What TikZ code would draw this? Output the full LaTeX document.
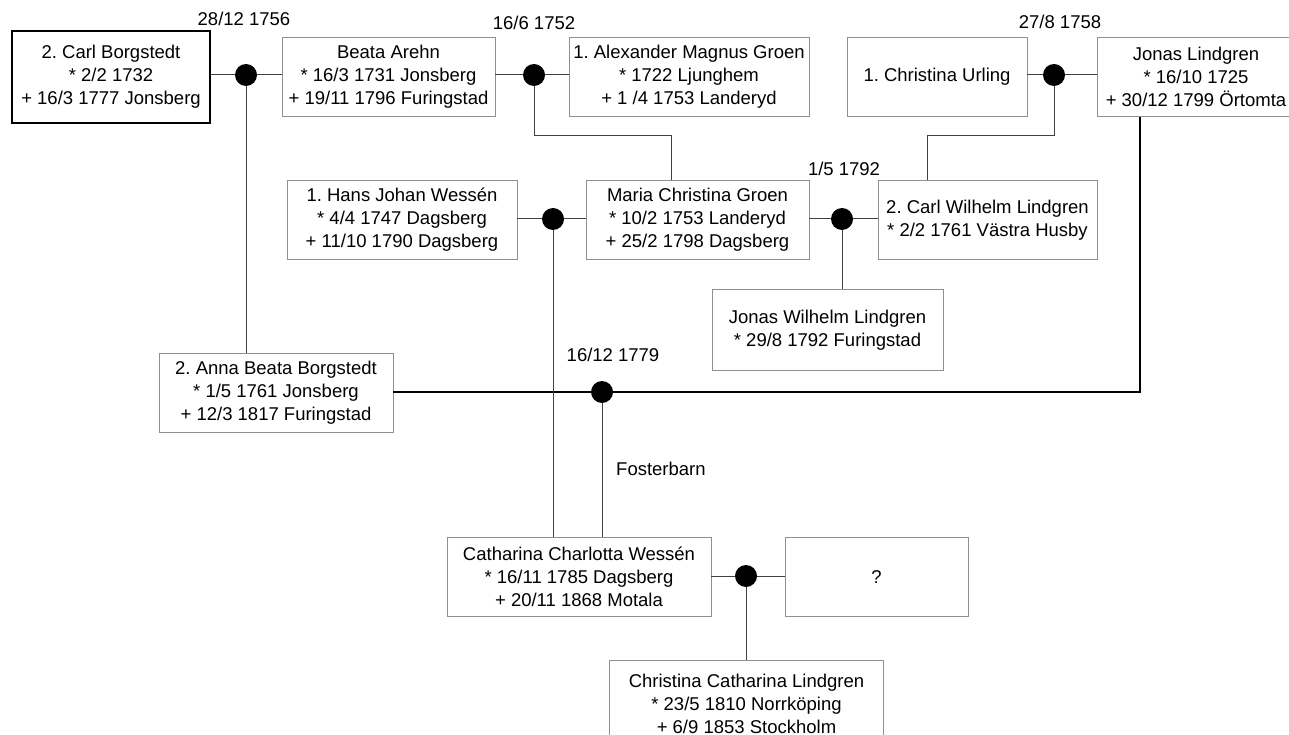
\documentclass[tikz,border=0pt]{standalone}
\usepackage{fontspec}
\setmainfont{Liberation Sans}
\frenchspacing
\definecolor{boxgray}{HTML}{909090}
\definecolor{linegray}{HTML}{404040}
\begin{document}
\begin{tikzpicture}[x=1pt,y=-1pt,
  person/.style={draw=boxgray, line width=0.8pt, fill=white, inner sep=0pt, align=center,
    font=\fontsize{18.5}{23}\selectfont\frenchspacing},
  mainperson/.style={person, draw=black, line width=1.5pt},
  dot/.style={circle, fill=black, minimum size=22pt, inner sep=0pt},
  link/.style={draw=linegray, line width=1pt},
  heavylink/.style={draw=black, line width=2pt},
  datelabel/.style={font=\fontsize{18.5}{23}\selectfont, inner sep=0pt}]
\useasboundingbox (0,0) rectangle (1289,735);
\clip (0,0) rectangle (1289,735);
\fill[white] (0,0) rectangle (1289,735);

% persons
\node[mainperson, minimum width=198pt, minimum height=92pt] (carl) at (111,77)
  {2. Carl Borgstedt\\{*} 2/2 1732\\+ 16/3 1777 Jonsberg};
\node[person, minimum width=213pt, minimum height=79pt] (beata) at (388.5,77)
  {Beata Arehn\\{*} 16/3 1731 Jonsberg\\+ 19/11 1796 Furingstad};
\node[person, minimum width=240pt, minimum height=79pt] (alex) at (689,77)
  {1. Alexander Magnus Groen\\{*} 1722 Ljunghem\\+ 1 /4 1753 Landeryd};
\node[person, minimum width=180pt, minimum height=79pt] (urling) at (937,77)
  {1. Christina Urling};
\node[person, minimum width=198pt, minimum height=79pt] (jonas) at (1196,77)
  {Jonas Lindgren\\{*} 16/10 1725\\+ 30/12 1799 Örtomta};
\node[person, minimum width=230pt, minimum height=79pt] (hans) at (402,220)
  {1. Hans Johan Wessén\\{*} 4/4 1747 Dagsberg\\+ 11/10 1790 Dagsberg};
\node[person, minimum width=223pt, minimum height=79pt] (maria) at (697.5,220)
  {Maria Christina Groen\\{*} 10/2 1753 Landeryd\\+ 25/2 1798 Dagsberg};
\node[person, minimum width=219pt, minimum height=79pt] (carlw) at (987.5,220)
  {2. Carl Wilhelm Lindgren\\{*} 2/2 1761 Västra Husby};
\node[person, minimum width=231pt, minimum height=81pt] (jonasw) at (827.5,330)
  {Jonas Wilhelm Lindgren\\{*} 29/8 1792 Furingstad};
\node[person, minimum width=234pt, minimum height=79pt] (anna) at (276,393)
  {2. Anna Beata Borgstedt\\{*} 1/5 1761 Jonsberg\\+ 12/3 1817 Furingstad};
\node[person, minimum width=264pt, minimum height=79pt] (cath) at (579,577)
  {Catharina Charlotta Wessén\\{*} 16/11 1785 Dagsberg\\+ 20/11 1868 Motala};
\node[person, minimum width=183pt, minimum height=79pt] (unk) at (876.5,577)
  {?};
\node[person, minimum width=274pt, minimum height=86pt] (chr) at (746.5,703.5)
  {Christina Catharina Lindgren\\{*} 23/5 1810 Norrköping\\+ 6/9 1853 Stockholm};

% marriage dots
\node[dot] (d1) at (246,75) {};
\node[dot] (d2) at (534,75) {};
\node[dot] (d3) at (1054,75) {};
\node[dot] (d4) at (553,219) {};
\node[dot] (d5) at (842,219) {};
\node[dot] (d6) at (602,392) {};
\node[dot] (d7) at (746,576) {};

% date labels
\node[datelabel] (l1) at (244,19) {28/12 1756};
\node[datelabel] (l2) at (534,23) {16/6 1752};
\node[datelabel] (l3) at (1060,22) {27/8 1758};
\node[datelabel] (l4) at (844,169) {1/5 1792};
\node[datelabel] (l5) at (613,355) {16/12 1779};
\node[datelabel, anchor=west] (l6) at (616,469) {Fosterbarn};

% helper coordinates
\coordinate (k1) at (671,136);
\coordinate (k2) at (927,136);
\coordinate (jc) at (1140,392);

% couples
\draw[link] (carl.east |- d1) -- (d1.west);
\draw[link] (d1.east) -- (beata.west |- d1);
\draw[link] (beata.east |- d2) -- (d2.west);
\draw[link] (d2.east) -- (alex.west |- d2);
\draw[link] (urling.east |- d3) -- (d3.west);
\draw[link] (d3.east) -- (jonas.west |- d3);
\draw[link] (hans.east |- d4) -- (d4.west);
\draw[link] (d4.east) -- (maria.west |- d4);
\draw[link] (maria.east |- d5) -- (d5.west);
\draw[link] (d5.east) -- (carlw.west |- d5);
\draw[link] (cath.east |- d7) -- (d7.west);
\draw[link] (d7.east) -- (unk.west |- d7);
\draw[heavylink] (anna.east |- d6) -- (d6.west);
\draw[heavylink] (d6.east) -- (jc) -- (jonas.south -| jc);

% children
\draw[link] (d1.south) -- (anna.north -| d1);
\draw[link] (d2.south) |- (k1) -- (maria.north -| k1);
\draw[link] (d3.south) |- (k2) -- (carlw.north -| k2);
\draw[link] (d5.south) -- (jonasw.north -| d5);
\draw[link] (d4.south) -- (cath.north -| d4);
\draw[link] (d6.south) -- (cath.north -| d6);
\draw[link] (d7.south) -- (chr.north -| d7);
\end{tikzpicture}
\end{document}
